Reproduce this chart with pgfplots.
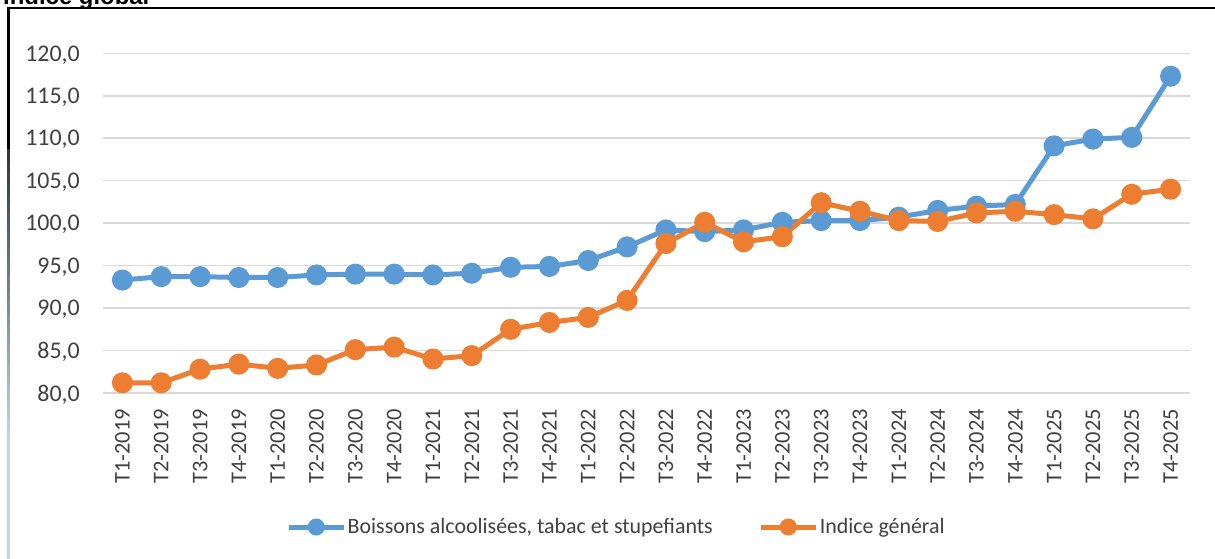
\documentclass[border=0pt]{standalone}
\usepackage{pgfplots}
\usepackage{pgfplotstable}
\pgfplotsset{compat=1.18}
\usepackage{fontspec}
\setmainfont{Carlito}
\newfontfamily\titlefont{Liberation Sans}

\definecolor{serieblue}{HTML}{5B9BD5}
\definecolor{serieorange}{HTML}{ED7D31}
\definecolor{gridgray}{HTML}{D9D9D9}
\definecolor{labelgray}{HTML}{404040}
\definecolor{edgeblue}{HTML}{BDD7EE}

% indices trimestriels
\pgfplotstableread{
idx alcool general
0  93.3  81.2
1  93.7  81.2
2  93.7  82.8
3  93.6  83.4
4  93.6  82.9
5  93.9  83.3
6  94.0  85.1
7  94.0  85.4
8  93.9  84.0
9  94.1  84.4
10 94.8  87.5
11 94.9  88.3
12 95.6  88.9
13 97.2  90.9
14 99.2  97.6
15 99.0  100.1
16 99.2  97.8
17 100.1 98.4
18 100.3 102.4
19 100.3 101.4
20 100.7 100.3
21 101.5 100.2
22 102.0 101.2
23 102.2 101.4
24 109.1 101.0
25 109.9 100.5
26 110.1 103.4
27 117.3 104.0
}\indices

\begin{document}
\begin{tikzpicture}[x=1bp,y=1bp]
\begin{axis}[
    at={(103bp,166bp)}, anchor=south west,
    scale only axis, width=1087bp, height=339.7bp,
    xmin=-0.5, xmax=27.5, ymin=80, ymax=120,
    ytick={80,85,...,120},
    xtick={0,...,27},
    xticklabels={T1-2019,T2-2019,T3-2019,T4-2019,T1-2020,T2-2020,T3-2020,T4-2020,
                 T1-2021,T2-2021,T3-2021,T4-2021,T1-2022,T2-2022,T3-2022,T4-2022,
                 T1-2023,T2-2023,T3-2023,T4-2023,T1-2024,T2-2024,T3-2024,T4-2024,
                 T1-2025,T2-2025,T3-2025,T4-2025},
    major tick length=0pt,
    axis lines=left,
    axis line style={draw=none},
    ymajorgrids,
    major grid style={draw=gridgray, line width=1.5bp},
    ticklabel style={font=\fontsize{22.5}{27}\selectfont, text=labelgray},
    yticklabel style={anchor=east, inner xsep=23bp, inner ysep=0pt, text depth=0pt,
        font=\fontsize{24}{28}\selectfont},
    xticklabel style={rotate=90, anchor=east, inner xsep=16bp, inner ysep=0pt},
    /pgf/number format/.cd, fixed, fixed zerofill, precision=1, use comma, assume math mode=true,
    /pgfplots/.cd,
    clip=false,
    legend columns=2,
    legend style={at={(0.1684,-0.3945)}, anchor=west, draw=none, fill=none, inner sep=0pt,
        font=\fontsize{22}{26}\selectfont, text=labelgray,
        nodes={inner sep=1.5bp},
        /tikz/every even column/.append style={column sep=44bp}},
    legend image code/.code={
        \draw[mark repeat=2, mark phase=2, #1, mark size=6bp] plot coordinates {(0bp,0bp) (27.5bp,0bp) (55bp,0bp)};
    },
]
\addplot[serieblue, line width=5bp, mark=*, mark size=8bp, mark options={solid}] table[x=idx, y=alcool] {\indices};
\addlegendentry{Boissons alcoolisées, tabac et stupefiants}
\addplot[serieorange, line width=5bp, mark=*, mark size=8bp, mark options={solid}] table[x=idx, y=general] {\indices};
\addlegendentry{Indice général}
\end{axis}

% cadre
\fill[black] (7,552) rectangle (1215,550);
\fill[black] (7,552) rectangle (9.5,409);
\shade[top color=black!80, bottom color=edgeblue] (7,409) rectangle (9.5,120);
\fill[edgeblue] (7,120) rectangle (9.5,0);
\node[anchor=base west, inner sep=0pt, font=\titlefont\bfseries\fontsize{24}{28}\selectfont] at (3,554) {Indice global};

\pgfresetboundingbox
\useasboundingbox (0,0) rectangle (1215,559);
\end{tikzpicture}
\end{document}
